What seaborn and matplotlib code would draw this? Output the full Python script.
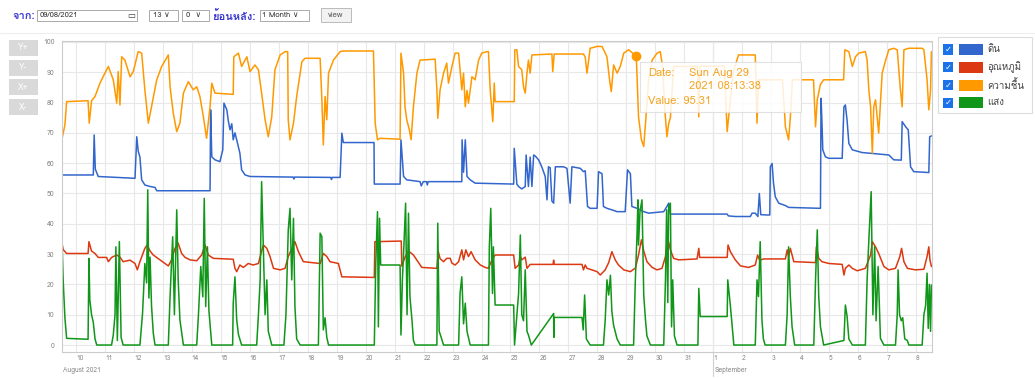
import numpy as np
import pandas as pd
import seaborn as sns
import matplotlib.pyplot as plt
from matplotlib.patches import Rectangle
from matplotlib.lines import Line2D
from matplotlib import font_manager
from matplotlib.ft2font import FT2Font

# legend order / colours (Google-chart palette)
names = ['ดิน', 'อุณหภูมิ', 'ความชื้น', 'แสง']
colors = ['#3366cc', '#dc3912', '#ff9900', '#109618']

# (day of August 2021, value); 32 = 1 September
soil = [(9.52,56.1),(10.60,56.1),(10.63,69.3),(10.67,58),(10.77,55.6),(12.04,55),(12.10,68.7),(12.15,64),
        (12.21,62),(12.27,54.5),(12.38,52.8),(12.56,52.3),(12.73,52),(12.79,50.9),(14.63,50.9),(14.65,77.6),
        (14.69,62.1),(14.80,61.1),(14.97,60.5),(15.07,64.4),(15.11,79.8),(15.21,77.6),(15.26,74),(15.32,71),
        (15.38,73),(15.43,67.7),(15.49,70),(15.55,67.7),(15.66,63.3),(15.72,57.8),(15.84,56.1),(16.01,55.6),
        (17.50,55.4),(17.52,54.8),(17.55,55.4),(18.80,55.3),(18.82,54.6),(18.85,55.3),
        (19.12,55.3),(19.18,69.9),(19.23,66.8),(20.29,66.8),(20.30,53.1),(21.19,53.1),(21.22,67.7),(21.31,55.6),
        (21.42,54.5),(21.88,53.9),(21.92,52.5),(21.99,53.9),(22.10,53.9),(22.13,52.8),(22.16,53.9),
        (23.32,53.9),(23.33,67.7),(23.38,57),(23.44,67.7),(23.50,55.6),(23.61,54.5),(23.78,53.4),
        (25.11,53.1),(25.13,64.9),(25.22,53.1),(25.28,52.3),(25.39,51.5),(25.51,52.3),(25.54,62.7),(25.62,52.3),
        (25.68,62),(25.74,52.3),(25.80,62.7),(25.86,62.3),(25.97,61.1),(26.08,58.8),(26.20,55.6),(26.26,47.9),
        (26.31,58.8),(26.37,58.5),(26.43,47.5),(26.49,46.8),(26.55,58.8),(26.83,58.8),(26.95,58.3),(27.06,46.8),
        (27.12,58.8),(27.41,58.3),(27.52,57.2),(27.58,57.5),(27.66,45.7),(27.75,45.1),(27.99,45.1),(28.04,57.2),
        (28.16,56.5),(28.21,45.7),(28.33,45.1),(28.50,44.6),(28.68,44),(28.96,44),(29.04,57.8),(29.14,56.5),
        (29.19,45.7),(29.37,45.1),(29.60,44),(29.77,43.5),(30.29,44),(30.40,45.7),(30.46,46.8),(30.52,43.2),
        (30.69,43.2),(32.48,43.2),(32.52,42.6),(32.76,42.4),(33.28,42.4),(33.34,43.5),(33.45,43.5),(33.54,42.4),
        (33.59,50),(33.64,43),(33.86,42.9),(33.95,42.9),(33.97,58.8),(34.03,59.9),(34.08,53.4),(34.14,48.9),
        (34.26,46.8),(34.49,46),(34.60,45.4),(35.70,45.1),(35.72,81.4),(35.75,74),(35.78,64.4),(35.87,62.1),
        (35.99,61.6),(36.45,61.6),(36.51,78.6),(36.56,79.2),(36.62,74),(36.68,66.5),(36.80,64.4),(37.14,63.5),
        (37.37,63.3),(38.06,62.7),(38.23,61.1),(38.49,61),(38.52,73.7),(38.64,72),(38.73,71),(38.81,58.8),
        (38.92,57.2),(39.44,56.9),(39.47,68.7),(39.53,69)]

temp = [(9.51,34.1),(9.56,31.5),(9.68,30.2),(10.42,30.2),(10.45,34.1),(10.54,31),(10.66,30.2),(10.77,28.9),
        (11.06,28.9),(11.12,27.5),(11.23,28.9),(11.41,29.7),(11.52,29),(11.63,27.5),(11.87,28),(12.04,26.9),
        (12.12,24.8),(12.21,27.5),(12.38,31.9),(12.46,33),(12.56,31),(12.67,29.7),(12.90,28.1),(13.19,26.1),
        (13.30,28),(13.42,31.9),(13.53,33.6),(13.65,30.2),(13.77,28.9),(13.94,28.1),(14.17,27.8),(14.34,29.7),
        (14.46,33),(14.57,29.7),(14.74,28.6),(15.43,28.3),(15.49,25.3),(15.55,24.2),(15.66,26.4),(15.78,25.6),
        (15.95,26.9),(16.12,26.4),(16.30,26.9),(16.36,29.2),(16.47,33),(16.59,31.9),(16.70,29.2),(16.82,25.3),
        (17.05,24.8),(17.22,25.3),(17.33,29.2),(17.56,34.1),(17.68,30.8),(17.85,27.5),(18.43,26.9),(18.54,30.2),
        (18.66,29.2),(18.77,27.5),(19.06,26.9),(19.18,22.5),(20.30,22.3),(20.32,34.1),(21.23,34.3),(21.25,26),
        (21.36,29),(21.48,31),(21.65,29.7),(21.77,28),(21.94,25.6),(22.46,25.3),(22.51,30.8),(22.57,28.5),
        (22.69,27.5),(22.80,28.6),(22.92,28.6),(22.98,27),(23.09,26.4),(23.21,27.5),(23.32,31.4),(23.38,28.1),
        (23.46,31.4),(23.55,29.2),(23.64,30.8),(23.78,28.1),(23.96,26.4),(24.13,25.6),(24.24,25.3),(24.36,28.1),
        (24.47,29.7),(25.11,29.7),(25.16,25.3),(25.28,26.4),(25.34,29.2),(25.39,28.1),(25.51,29),(25.57,25.3),
        (25.68,26.6),(26.47,26.6),(26.49,28),(26.51,26.6),(27.47,26.6),(27.52,24.8),(27.58,26.4),(27.64,25.3),
        (27.81,24.8),(27.99,24.2),(28.10,23.1),(28.27,24.8),(28.39,27.2),(28.50,30.8),(28.62,28),(28.73,26.4),
        (28.91,24.8),(29.14,24.2),(29.25,25),(29.31,25.3),(29.42,29.7),(29.52,34.7),(29.60,31),(29.71,27.5),
        (29.89,25.6),(30.06,24.8),(30.23,25.3),(30.35,29.2),(30.43,35.2),(30.52,31.4),(30.63,28.6),(30.81,28.1),
        (31.44,28.4),(31.50,31.9),(31.53,28.9),(32.48,28.9),(32.51,33),(32.59,30.8),(32.76,28.1),(32.94,26.1),
        (33.22,25.6),(33.45,26.4),(33.53,29.7),(33.60,28),(33.74,28.4),(34.49,28.4),(34.55,31.4),(34.60,29.2),
        (34.66,31.9),(34.78,27.5),(35.53,27.2),(35.56,32.4),(35.64,28.6),(35.75,27.5),(35.99,26.9),(36.45,26.6),
        (36.51,23.1),(36.56,25.3),(36.68,26.4),(36.80,25.3),(36.97,24.5),(37.25,25.3),(37.43,29.7),(37.49,34.1),
        (37.60,32.4),(37.71,30.2),(37.89,25.9),(38.06,24.8),(38.29,25.3),(38.44,29.2),(38.50,31.9),(38.58,27.5),
        (38.70,25.3),(38.98,24.8),(39.27,25),(39.38,29.2),(39.44,32.4),(39.48,28),(39.53,25.9)]

humid = [(9.52,68),(9.62,72.6),(9.68,80.3),(10.42,80.6),(10.46,73.2),(10.54,80.6),(10.66,82),(10.83,86.4),
         (11.00,89.7),(11.12,91.9),(11.29,87.5),(11.41,79.8),(11.46,90.2),(11.52,79.2),(11.58,95.1),(11.69,94),
         (11.87,88.5),(11.98,90.2),(12.15,96.8),(12.27,96.3),(12.38,84.2),(12.50,73.2),(12.61,78.6),(12.79,87.5),
         (12.96,91.9),(13.19,95.7),(13.25,85.2),(13.36,76.5),(13.48,70.4),(13.59,73.2),(13.71,83.1),(13.88,86.9),
         (14.05,84.2),(14.17,85.2),(14.28,82),(14.40,75.3),(14.51,68.2),(14.63,78.6),(14.69,86.4),(14.80,83.1),
         (15.43,82.7),(15.45,95.1),(15.61,96.3),(15.72,91.9),(15.90,95.1),(16.01,90.2),(16.18,92.4),(16.30,90.8),
         (16.41,83.1),(16.53,74.3),(16.64,68.7),(16.76,75.3),(16.87,90.8),(17.05,95.7),(17.22,96.8),(17.31,96.8),
         (17.33,74.3),(17.39,67.7),(17.51,73.2),(17.62,82),(17.80,93.5),(17.91,94.6),(18.43,94.6),(18.49,80.9),
         (18.54,66),(18.60,82),(18.66,74.3),(18.72,89.7),(18.89,94),(19.12,96.8),(19.23,97),(20.27,97),
         (20.33,73.2),(20.41,67.7),(20.50,68.2),(21.19,67.9),(21.22,96.3),(21.31,89.7),(21.36,78.6),(21.42,74.3),
         (21.51,71),(21.57,67.7),(21.65,78.6),(21.77,89.7),(21.88,94),(22.40,94.3),(22.46,84.2),(22.49,74.8),
         (22.57,84.2),(22.69,89.7),(22.80,93),(22.86,86.4),(22.98,91.9),(23.09,96.3),(23.21,96.3),(23.32,84.2),
         (23.38,89.7),(23.44,78.6),(23.50,84),(23.55,79.8),(23.67,88.5),(23.78,87.5),(23.90,94),(24.01,96.3),
         (24.19,96.8),(24.24,96.8),(24.30,84.2),(24.39,73.7),(24.44,86.4),(24.47,80.3),(25.13,80.3),(25.15,97.4),
         (25.22,97.4),(25.28,91.9),(25.39,90.8),(25.45,85.2),(25.51,83.1),(25.57,89.7),(25.62,94),(25.68,89.7),
         (25.74,95.7),(26.43,96),(26.46,90.2),(26.51,96),(27.52,96),(27.58,95),(27.64,89.7),(27.70,94),
         (27.75,97.9),(27.99,98.5),(28.16,98.5),(28.33,95.1),(28.42,87.5),(28.48,83.6),(28.56,92.4),(28.68,89.7),
         (28.79,91.9),(28.91,96.3),(29.08,97.4),(29.343,95.31),(29.42,75.3),(29.52,67.7),(29.60,65.5),(29.66,73),
         (29.77,87.5),(29.89,94),(30.06,96.3),(30.17,96.8),(30.25,92),(30.32,78.6),(30.40,68.7),(30.46,73),
         (30.52,75),(30.58,84.2),(30.63,91.9),(31.45,92),(31.50,75.3),(31.54,92),(32.38,92),(32.48,70.4),
         (32.56,78),(32.69,90),(32.87,95.7),(33.45,95.7),(33.51,73.2),(33.56,87.5),(34.39,87.5),(34.49,72),
         (34.60,67.7),(34.66,75),(34.73,87.5),(35.46,87.5),(35.53,72),(35.59,81),(35.70,86),(35.81,87.5),
         (36.50,87.5),(36.54,97.4),(36.68,96.8),(36.80,91.9),(36.91,95.1),(37.02,96.3),(37.25,96.8),(37.31,94),
         (37.37,84.2),(37.43,78.6),(37.49,63.3),(37.54,78.6),(37.60,80.9),(37.71,69.9),(37.83,89.7),(37.95,94),
         (38.06,97.4),(38.23,97.9),(38.35,97.4),(38.46,84.2),(38.52,78.6),(38.58,97.4),(38.75,97.9),(39.21,97.9),
         (39.27,97.4),(39.38,87.5),(39.44,77.6),(39.50,84),(39.53,96.8)]

light = [(9.51,38),(9.56,21.5),(9.62,9),(9.68,2.2),(10.42,1.9),(10.45,28.6),(10.48,14.9),(10.54,10),
         (10.60,7.5),(10.66,2),(10.72,0),(11.23,0),(11.29,3.3),(11.35,10),(11.38,32.4),(11.43,1.5),(11.50,34.1),
         (11.56,2.5),(11.63,0),(12.21,0),(12.30,10.4),(12.38,26.9),(12.44,20.5),(12.48,51.2),(12.52,15.5),
         (12.56,29),(12.61,13),(12.67,4),(12.73,0),(13.19,0),(13.25,15.9),(13.34,35.7),(13.40,10),(13.48,44.6),
         (13.53,21.5),(13.59,8.3),(13.71,0),(14.17,0),(14.23,10),(14.31,25.9),(14.38,15.9),(14.43,48.4),
         (14.48,12.7),(14.54,32.4),(14.59,11.5),(14.69,0),(15.41,0),(15.43,13.8),(15.49,22.5),(15.55,8.3),
         (15.61,3.5),(15.72,0),(16.24,0),(16.30,10),(16.36,21.5),(16.41,53.9),(16.47,32.4),(16.53,10),
         (16.59,21.5),(16.64,4.6),(16.76,0),(17.18,0),(17.25,10),(17.33,38),(17.39,45.1),(17.45,21.5),
         (17.51,41.8),(17.56,12.7),(17.62,2),(17.74,0),(18.37,0),(18.43,36.9),(18.49,35.7),(18.54,5),(18.60,9),
         (18.66,2.5),(18.72,0),(20.30,0),(20.35,26.9),(20.41,44),(20.44,6),(20.48,41.8),(20.52,26.4),
         (21.19,26.4),(21.22,3.3),(21.27,21.5),(21.34,37),(21.38,46.8),(21.43,10),(21.48,43.5),(21.53,15.9),
         (21.60,8.3),(21.65,1.5),(21.71,0),(22.46,0),(22.49,40.2),(22.54,4.5),(22.61,2.5),(22.69,0),(23.21,0),
         (23.26,17.1),(23.32,22.5),(23.38,7),(23.44,13.8),(23.50,4.5),(23.61,0),(24.24,0),(24.27,32.4),
         (24.32,45.1),(24.38,17),(24.41,32.4),(24.47,13.2),(25.11,13.2),(25.14,0),(25.28,17),(25.34,36.3),
         (25.39,10),(25.45,8),(25.51,24.8),(25.57,4.5),(25.62,3.3),(25.72,0),(26.49,10.4),(26.495,2.5),
         (26.50,9.1),(27.47,9.1),(27.51,5),(27.56,16.5),(27.62,2),(27.75,0),(28.21,0),(28.27,8.3),(28.33,21.5),
         (28.39,16.5),(28.45,23),(28.50,11),(28.56,6.5),(28.68,2),(28.79,0),(29.25,0),(29.31,21.5),(29.37,37),
         (29.40,47.9),(29.42,33),(29.47,44),(29.54,47.9),(29.60,16.5),(29.66,8.3),(29.71,3),(29.83,0),(30.29,0),
         (30.35,21.5),(30.39,44.6),(30.43,14),(30.46,45.7),(30.52,46.8),(30.56,6),(30.60,21.5),(30.66,3),
         (30.75,0),(31.47,0),(31.50,18.7),(31.55,9.4),(32.48,9.4),(32.50,21.5),(32.59,13),(32.71,0),(33.45,0),
         (33.51,21.5),(33.56,16),(33.62,34.1),(33.68,8.3),(33.73,2),(33.79,0),(34.49,0),(34.55,10),(34.60,32.4),
         (34.66,16),(34.72,6),(34.81,0),(35.47,0),(35.53,21.5),(35.59,38),(35.64,16),(35.70,6),(35.81,0),
         (36.51,1.5),(36.56,13.2),(36.62,9.4),(36.68,2),(36.80,0),(37.25,0),(37.31,21.5),(37.37,34.6),
         (37.45,50.6),(37.51,10),(37.57,32.4),(37.62,8),(37.69,25.9),(37.77,2.2),(37.89,0),(38.29,0),(38.35,10),
         (38.38,24.8),(38.43,10),(38.49,8),(38.54,9),(38.61,2),(38.70,1.5),(38.75,0),(39.21,0),(39.27,10),
         (39.33,13),(39.38,23.7),(39.42,5.5),(39.46,20),(39.50,4.5),(39.53,19.8)]

# hovered point shown in the tooltip
hover_t, hover_v = 29.343, 95.31

yticks = list(range(0, 101, 10))

# --- fonts: need one with Thai glyphs
thai = None
for f in font_manager.fontManager.ttflist:
    try:
        if ord('ก') in FT2Font(f.fname).get_charmap():
            thai = f.name
            break
    except Exception:
        pass

sns.set_style('white')
plt.rcParams['font.family'] = [thai, 'DejaVu Sans'] if thai else ['DejaVu Sans']

start = pd.Timestamp('2021-07-31')
def to_time(d):
    return start + pd.to_timedelta(d, unit='D')

rows = []
for name, pts in zip(names, [soil, temp, humid, light]):
    for d, v in pts:
        rows.append({'series': name, 'time': to_time(d), 'value': v})
df = pd.DataFrame(rows)

W, H = 1035, 378
def fx(px): return px / W
def fy(py): return 1 - py / H

fig = plt.figure(figsize=(10.35, 3.78), dpi=100)
ax = fig.add_axes([fx(62), fy(352), fx(932) - fx(62), fy(41) - fy(352)])

sns.lineplot(data=df, x='time', y='value', hue='series', hue_order=names,
             palette=dict(zip(names, colors)), estimator=None, sort=False,
             legend=False, lw=1.1, ax=ax)
ax.plot([to_time(hover_t)], [hover_v], 'o', color='#ff9900', ms=6, zorder=5)

ax.set_xlim(to_time(9.52), to_time(39.55))
ax.set_ylim(-2.3, 100.3)
days = pd.date_range('2021-08-10', '2021-09-08')
ax.set_xticks(days)
ax.set_xticklabels([str(d.day) for d in days], ha='left', fontsize=4.8, color='#888888')
ax.set_yticks(yticks)
ax.set_yticklabels([str(v) for v in yticks], fontsize=5, color='#888888')
ax.tick_params(axis='x', length=9, width=0.8, color='#e8e8e8', pad=-7)
ax.tick_params(axis='y', length=2.5, width=0.8, color='#cccccc', pad=3)
ax.grid(True, color='#e8e8e8', lw=0.8)
ax.set_axisbelow(True)
ax.axvline(pd.Timestamp('2021-09-01'), color='#d0d0d0', lw=0.8, zorder=0)
for s in ax.spines.values():
    s.set_color('#cccccc')
    s.set_linewidth(0.8)
ax.set_xlabel('')
ax.set_ylabel('')

# month labels under the axis
fig.text(fx(63), fy(370), 'August 2021', fontsize=4.8, color='#888888', va='center')
fig.text(fx(715), fy(370), 'September', fontsize=4.8, color='#888888', va='center')
fig.add_artist(Line2D([fx(713), fx(713)], [fy(352), fy(376)], color='#cfcfcf', lw=0.8))

# --- top control bar
blue = '#3535d0'
fig.add_artist(Line2D([0, 1], [fy(33), fy(33)], color='#eeeeee', lw=0.8))
fig.text(fx(12), fy(16), 'จาก:', color=blue, fontsize=8, fontweight='bold', va='center')
def box(x0, y0, x1, y1, fc='white', ec='#aaaaaa'):
    fig.add_artist(Rectangle((fx(x0), fy(y1)), fx(x1) - fx(x0), fy(y0) - fy(y1),
                             transform=fig.transFigure, fc=fc, ec=ec, lw=0.7))
box(37, 10, 137, 21)
fig.text(fx(40), fy(15.5), '09/08/2021', fontsize=5.5, color='#333333', va='center')
fig.text(fx(127), fy(15.5), '▭', fontsize=6, color='#333333', va='center')
box(149, 10, 178, 21)
fig.text(fx(153), fy(15.5), '13 ∨', fontsize=5.5, color='#333333', va='center')
box(182, 10, 209, 21)
fig.text(fx(186), fy(15.5), '0  ∨', fontsize=5.5, color='#333333', va='center')
fig.text(fx(213), fy(16), 'ย้อนหลัง:', color=blue, fontsize=8, fontweight='bold', va='center')
box(260, 10, 309, 21)
fig.text(fx(262), fy(15.5), '1 Month ∨', fontsize=5.5, color='#333333', va='center')
box(321, 8, 351, 22, fc='#f2f2f2', ec='#bbbbbb')
fig.text(fx(336), fy(15.5), 'view', fontsize=5.5, color='#555555', va='center', ha='center')

# --- zoom buttons on the left
for i, lab in enumerate(['Y+', 'Y-', 'X+', 'X-']):
    y0 = 40 + i * 19.7
    fig.add_artist(Rectangle((fx(9), fy(y0 + 16)), fx(38) - fx(9), fy(y0) - fy(y0 + 16),
                             transform=fig.transFigure, fc='#d9d9d9', ec='none'))
    fig.text(fx(23.5), fy(y0 + 8), lab, fontsize=6, color='white', ha='center', va='center')

# --- legend with checkboxes
fig.add_artist(Rectangle((fx(938), fy(113)), fx(1032) - fx(938), fy(37) - fy(113),
                         transform=fig.transFigure, fc='white', ec='#dddddd', lw=0.8))
for i, (name, col) in enumerate(zip(names, colors)):
    yc = 49.5 + i * 17.8
    fig.add_artist(Rectangle((fx(943), fy(yc + 5)), fx(953) - fx(943), fy(yc - 5) - fy(yc + 5),
                             transform=fig.transFigure, fc='#1a73e8', ec='none'))
    fig.text(fx(948), fy(yc), '✓', fontsize=6, color='white', ha='center', va='center',
             fontweight='bold', family='DejaVu Sans')
    fig.add_artist(Rectangle((fx(959), fy(yc + 5.5)), fx(983) - fx(959), fy(yc - 5.5) - fy(yc + 5.5),
                             transform=fig.transFigure, fc=col, ec='none'))
    fig.text(fx(987), fy(yc), name, fontsize=7, color='#444444', va='center')

# --- tooltip
fig.add_artist(Rectangle((fx(640), fy(112)), fx(801) - fx(640), fy(62) - fy(112),
                         transform=fig.transFigure, fc='white', ec='#dddddd', lw=0.8,
                         alpha=0.85, zorder=5))
tip = '#f5a524'
fig.text(fx(648), fy(73.5), 'Date:', fontsize=8, color=tip, va='center', zorder=6)
fig.text(fx(689), fy(73.5), 'Sun Aug 29', fontsize=8, color=tip, va='center', zorder=6)
fig.text(fx(689), fy(86), '2021 08:13:38', fontsize=8, color=tip, va='center', zorder=6)
fig.text(fx(648), fy(101), 'Value: 95.31', fontsize=8, color=tip, va='center', zorder=6)

fig.savefig('out.png', dpi=100)
